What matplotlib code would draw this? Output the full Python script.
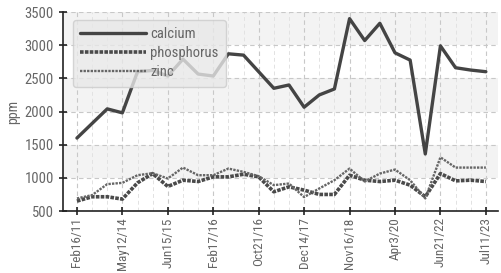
import matplotlib
matplotlib.use("Agg")
import matplotlib.pyplot as plt
from matplotlib.ticker import MultipleLocator, FixedLocator
from matplotlib import font_manager

tick_labels = ["Feb16/11", "May12/14", "Jun15/15", "Feb17/16", "Oct21/16",
               "Dec14/17", "Nov16/18", "Apr3/20", "Jun21/22", "Jul11/23"]

calcium = [1600, 1820, 2040, 1980, 2600, 2620, 2535, 2790, 2565, 2535,
           2870, 2850, 2600, 2350, 2400, 2065, 2250, 2340, 3400, 3070,
           3330, 2885, 2775, 1360, 2990, 2660, 2625, 2600]
phosphorus = [650, 715, 715, 680, 925, 1065, 870, 965, 945, 1015,
              1015, 1055, 1015, 790, 865, 815, 750, 750, 1040, 965,
              945, 965, 890, 715, 1065, 955, 965, 945]
zinc = [690, 740, 905, 925, 1040, 1070, 990, 1155, 1040, 1040,
        1140, 1090, 1025, 890, 915, 710, 840, 965, 1140, 945,
        1065, 1125, 965, 690, 1310, 1155, 1155, 1155]

names = set(f.name for f in font_manager.fontManager.ttflist)
fam = "DejaVu Sans"
for cand in ["Roboto Condensed", "Barlow Condensed", "PT Sans Narrow", "Saira Condensed"]:
    if cand in names:
        fam = cand
        break
plt.rcParams['font.family'] = [fam, "DejaVu Sans"]

fig = plt.figure(figsize=(5.02, 2.73), dpi=100)
ax = fig.add_axes([0.1255, 0.227, 0.8665, 0.729])

x = list(range(len(calcium)))

# alternating bands
for lo in range(500, 3500, 500):
    if ((lo - 500) // 500) % 2 == 1:
        ax.axhspan(lo, lo + 500, color="#f3f3f3", zorder=0, lw=0)

ax.plot(x, calcium, color="#444444", lw=2.4, label="calcium", zorder=3,
        solid_capstyle="round")
ax.plot(x, phosphorus, color="#4a4a4a", lw=2.6, ls=(0, (1.0, 0.35)),
        label="phosphorus", zorder=3)
ax.plot(x, zinc, color="#666666", lw=1.7, ls=(0, (1.0, 0.5)),
        label="zinc", zorder=3)

ax.set_xlim(-0.92, 27.8)
ax.set_ylim(500, 3500)
ax.yaxis.set_major_locator(MultipleLocator(500))
ax.xaxis.set_major_locator(FixedLocator(list(range(0, 28, 3))))
ax.xaxis.set_minor_locator(FixedLocator(list(range(0, 28))))
ax.set_xticklabels(tick_labels, rotation=90)

ax.grid(True, which="major", axis="both", color="#c8c8c8", ls=(0, (4, 3)), lw=0.8)
ax.grid(True, which="minor", axis="x", color="#e2e2e2", ls=(0, (4, 3)), lw=0.7)
ax.set_axisbelow(True)

for s in ["top", "right"]:
    ax.spines[s].set_visible(False)
ax.spines["left"].set_color("#222222")
ax.spines["bottom"].set_color("#222222")
ax.spines["left"].set_linewidth(1.2)
ax.spines["bottom"].set_linewidth(1.2)
ax.tick_params(axis="both", which="major", direction="inout", length=6,
               width=1.2, color="#222222", labelcolor="#666666", labelsize=10.5)
ax.tick_params(axis="x", which="major", labelsize=9.5, pad=1.5)
ax.tick_params(axis="x", which="minor", length=0)

ax.set_ylabel("ppm", color="#666666", fontsize=10, labelpad=3)

leg = ax.legend(loc="upper left", bbox_to_anchor=(0.023, 0.96), borderaxespad=0,
                fontsize=10.5, handlelength=4.5, handletextpad=0.3, labelspacing=0.35,
                borderpad=0.5, frameon=True, fancybox=True, framealpha=0.8)
leg.get_frame().set_facecolor("#e8e8e8")
leg.get_frame().set_edgecolor("#cccccc")
for t in leg.get_texts():
    t.set_color("#666666")
leg.set_zorder(5)

fig.savefig("out.png", dpi=100)
